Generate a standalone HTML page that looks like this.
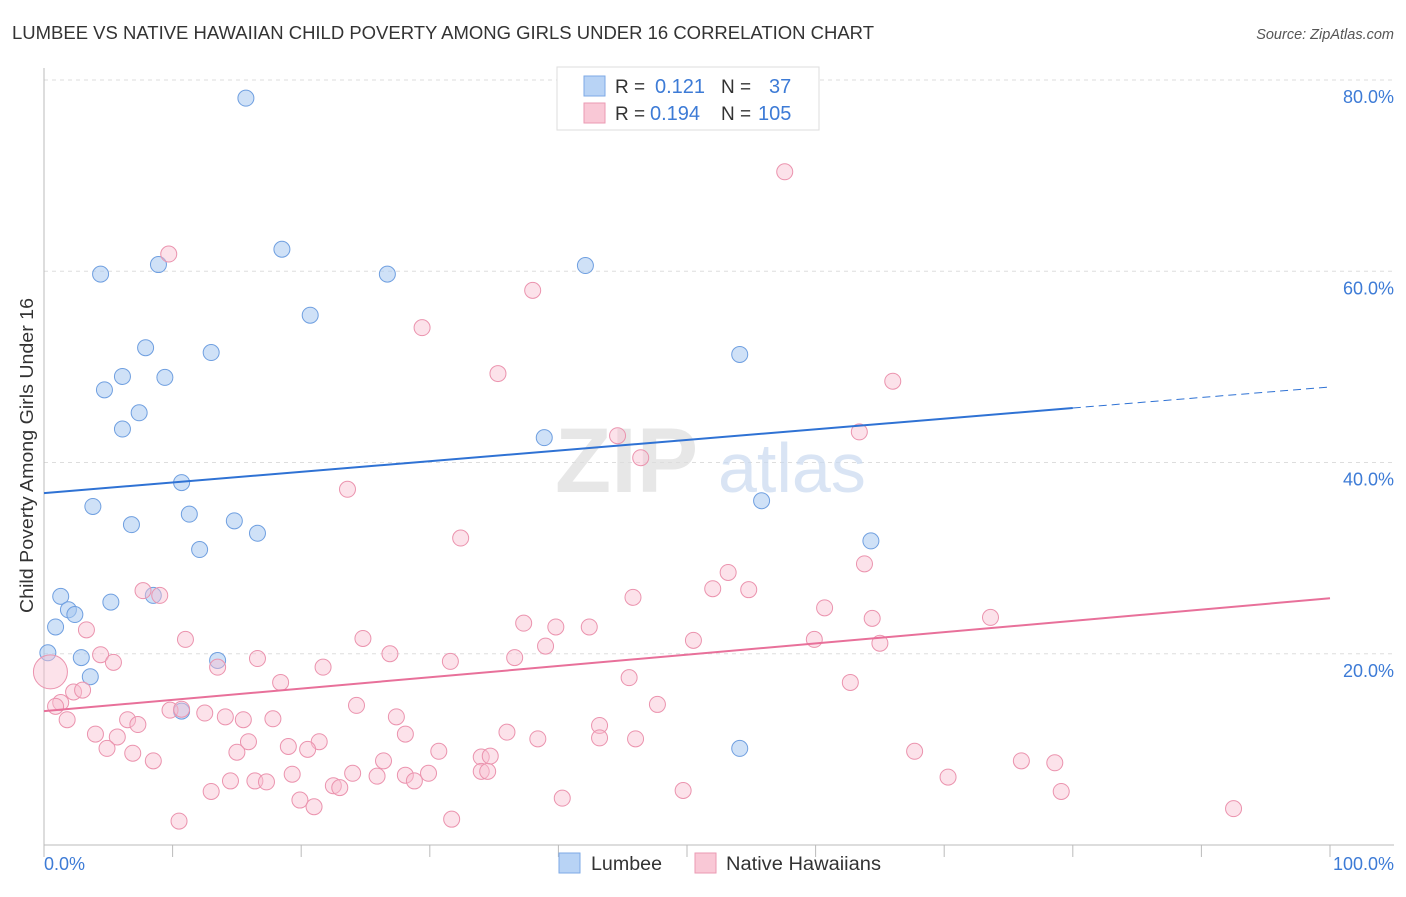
<!DOCTYPE html>
<html><head><meta charset="utf-8">
<style>
body{margin:0;background:#fff;font-family:"Liberation Sans",sans-serif;}
svg text{font-family:"Liberation Sans",sans-serif;}
</style></head>
<body>
<svg id="chart" width="1406" height="892" xmlns="http://www.w3.org/2000/svg">
<text x="12" y="39" font-size="18" fill="#333" textLength="862" lengthAdjust="spacingAndGlyphs">LUMBEE VS NATIVE HAWAIIAN CHILD POVERTY AMONG GIRLS UNDER 16 CORRELATION CHART</text>
<text x="1394" y="39" font-size="14.5" fill="#555" font-style="italic" text-anchor="end">Source: ZipAtlas.com</text>
<text x="0" y="0" transform="translate(33,613) rotate(-90)" font-size="18" fill="#333" textLength="315" lengthAdjust="spacingAndGlyphs">Child Poverty Among Girls Under 16</text>
<g id="grid"></g>
<g><text x="555" y="492" font-size="92" fill="#ddd" font-family="Liberation Serif" font-weight="bold" opacity="0.7">ZIP</text><text x="718" y="492" font-size="70" fill="#c9daf0" opacity="0.7">atlas</text></g>
<g id="marks"></g>
<g>
<rect x="557" y="67" width="262" height="63" fill="#fff" stroke="#ddd"/>
<rect x="584" y="76" width="21" height="20" fill="#b8d3f5" stroke="#7eaae6"/>
<rect x="584" y="103" width="21" height="20" fill="#f9c8d6" stroke="#eb9ab3"/>
<text x="615" y="93" font-size="19" fill="#333">R = </text><text x="655" y="93" font-size="20" fill="#3d7bd6">0.121</text>
<text x="721" y="93" font-size="19" fill="#333">N = </text><text x="769" y="93" font-size="20" fill="#3d7bd6">37</text>
<text x="615" y="120" font-size="19" fill="#333">R = </text><text x="650" y="120" font-size="20" fill="#3d7bd6">0.194</text>
<text x="721" y="120" font-size="19" fill="#333">N = </text><text x="758" y="120" font-size="20" fill="#3d7bd6">105</text>
</g>
<g>
<rect x="559" y="853" width="21" height="20" fill="#b8d3f5" stroke="#7eaae6"/>
<text x="591" y="870" font-size="19" fill="#333" textLength="71" lengthAdjust="spacingAndGlyphs">Lumbee</text>
<rect x="695" y="853" width="21" height="20" fill="#f9c8d6" stroke="#eb9ab3"/>
<text x="726" y="870" font-size="19" fill="#333" textLength="155" lengthAdjust="spacingAndGlyphs">Native Hawaiians</text>
</g>
<text x="44" y="870" font-size="18" fill="#3d7bd6">0.0%</text>
<text x="1394" y="870" font-size="18" fill="#3d7bd6" text-anchor="end">100.0%</text>
</svg>
<script>
const yTicks=[20,40,60,80];
const yTickLabels=["20.0%","40.0%","60.0%","80.0%"];
const xTicks=[0,10,20,30,40,50,60,70,80,90,100];
const lumbeeX=[15.7,18.5,4.4,8.9,26.7,42.1,20.7,7.9,13.0,54.1,6.1,9.4,4.7,7.4,6.1,38.9,10.7,3.8,55.8,11.3,6.8,14.8,16.6,12.1,64.3,1.3,8.5,5.2,1.9,2.4,0.9,0.3,2.9,13.5,3.6,10.7,54.1];
const lumbeeY=[78.1,62.3,59.7,60.7,59.7,60.6,55.4,52.0,51.5,51.3,49.0,48.9,47.6,45.2,43.5,42.6,37.9,35.4,36.0,34.6,33.5,33.9,32.6,30.9,31.8,26.0,26.1,25.4,24.6,24.1,22.8,20.1,19.6,19.3,17.6,14.0,10.1];
const nhX=[57.6,9.7,38.0,29.4,35.3,66.0,44.6,63.4,46.4,23.6,32.4,53.2,63.8,7.7,9.0,52.0,54.8,45.8,60.7,73.6,64.4,37.3,39.8,42.4,3.3,24.8,11.0,50.5,59.9,39.0,65.0,26.9,4.4,5.4,16.6,31.6,36.6,13.5,21.7,45.5,18.4,62.7,2.3,3.0,1.3,0.9,9.8,24.3,47.7,1.8,12.5,14.1,6.5,15.5,7.3,27.4,36.0,43.2,17.8,28.1,4.0,5.7,43.2,38.4,46.0,15.9,21.4,19.0,4.9,20.5,15.0,6.9,30.7,34.0,34.7,67.7,8.5,26.4,24.0,19.3,25.9,29.9,34.0,28.1,34.5,76.0,78.6,14.5,16.4,17.3,28.8,22.5,23.0,70.3,13.0,49.7,79.1,19.9,21.0,40.3,92.5,10.5,31.7,0.5,10.7];
const nhY=[70.4,61.8,58.0,54.1,49.3,48.5,42.8,43.2,40.5,37.2,32.1,28.5,29.4,26.6,26.1,26.8,26.7,25.9,24.8,23.8,23.7,23.2,22.8,22.8,22.5,21.6,21.5,21.4,21.5,20.8,21.1,20.0,19.9,19.1,19.5,19.2,19.6,18.6,18.6,17.5,17.0,17.0,16.0,16.2,14.9,14.5,14.1,14.6,14.7,13.1,13.8,13.4,13.1,13.1,12.6,13.4,11.8,12.5,13.2,11.6,11.6,11.3,11.2,11.1,11.1,10.8,10.8,10.3,10.1,10.0,9.7,9.6,9.8,9.2,9.3,9.8,8.8,8.8,7.5,7.4,7.2,7.5,7.7,7.3,7.7,8.8,8.6,6.7,6.7,6.6,6.7,6.2,6.0,7.1,5.6,5.7,5.6,4.7,4.0,4.9,3.8,2.5,2.7,18.1,14.2];
const nhR=nhY.map(()=>8); nhR[103]=17;
const lumbeeTrend=[36.8,45.7,47.9];
const nhTrend=[14.0,25.8];
const X0=44,X1=1330,Y0=845,Y80=80;
const sx=v=>X0+(X1-X0)*v/100;
const sy=v=>Y0-(Y0-Y80)*v/80;
const NS="http://www.w3.org/2000/svg";
function mk(tag,attrs,parent){const e=document.createElementNS(NS,tag);for(const k in attrs)e.setAttribute(k,attrs[k]);parent.appendChild(e);return e;}
const grid=document.getElementById('grid'),marks=document.getElementById('marks');
yTicks.forEach((t,i)=>{
 const l=mk('line',{x1:X0,x2:1394,y1:sy(t),y2:sy(t),stroke:'#ddd','stroke-dasharray':'4,4'},grid);
 
 
 const tx=mk('text',{x:1394,y:sy(t)+23,'font-size':18,fill:'#3d7bd6','text-anchor':'end'},grid);
 tx.textContent=yTickLabels[i];
 
 
});
const ax=mk('line',{x1:X0,x2:1394,y1:Y0,y2:Y0,stroke:'#bbb'},grid);


const ay=mk('line',{x1:X0,x2:X0,y1:68,y2:Y0,stroke:'#bbb'},grid);


xTicks.forEach(t=>{
 const l=mk('line',{x1:sx(t),x2:sx(t),y1:Y0,y2:Y0+12,stroke:'#bbb'},grid);
 
 
});
lumbeeX.forEach((x,i)=>{
 const c=mk('circle',{cx:sx(x),cy:sy(lumbeeY[i]),r:8,fill:'rgba(168,200,240,0.55)',stroke:'#6f9fe0','stroke-width':1},marks);
 
 
});
nhX.forEach((x,i)=>{
 const c=mk('circle',{cx:sx(x),cy:sy(nhY[i]),r:nhR[i],fill:'rgba(248,190,208,0.45)',stroke:'#eb93ae','stroke-width':1},marks);
 
 
});
const l1=mk('line',{x1:sx(0),y1:sy(lumbeeTrend[0]),x2:sx(80),y2:sy(lumbeeTrend[1]),stroke:'#2f72d4','stroke-width':2},marks);


const l2=mk('line',{x1:sx(80),y1:sy(lumbeeTrend[1]),x2:sx(100),y2:sy(lumbeeTrend[2]),stroke:'#2f72d4','stroke-width':1,'stroke-dasharray':'8,5'},marks);


const l3=mk('line',{x1:sx(0),y1:sy(nhTrend[0]),x2:sx(100),y2:sy(nhTrend[1]),stroke:'#e8709a','stroke-width':2},marks);


</script>
</body></html>
